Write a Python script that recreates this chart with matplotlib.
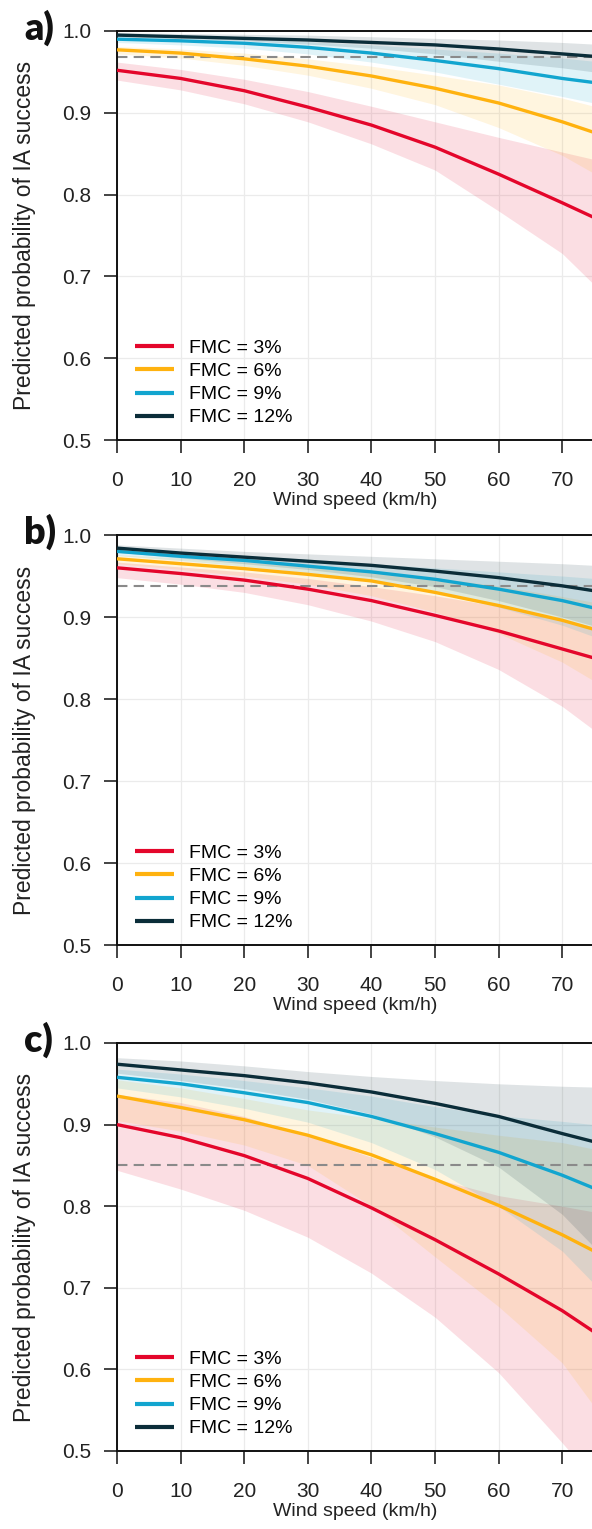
import matplotlib
matplotlib.use("Agg")
import matplotlib.pyplot as plt

plt.rcParams['font.family'] = ['Liberation Sans', 'DejaVu Sans']

wind = [0, 10, 20, 30, 40, 50, 60, 70, 75]
labels = ["FMC = 3%", "FMC = 6%", "FMC = 9%", "FMC = 12%"]
colors = ["#E4062B", "#FFB20F", "#12A5CF", "#0B2D39"]
panel_names = ["a)", "b)", "c)"]
thresholds = [0.968, 0.938, 0.851]

# Panel a
a_fit = [
    [0.952, 0.942, 0.927, 0.907, 0.885, 0.858, 0.825, 0.790, 0.772],
    [0.977, 0.973, 0.966, 0.957, 0.945, 0.930, 0.912, 0.889, 0.876],
    [0.990, 0.988, 0.985, 0.980, 0.973, 0.964, 0.954, 0.942, 0.937],
    [0.995, 0.993, 0.991, 0.989, 0.986, 0.983, 0.978, 0.972, 0.969],
]
a_lo = [
    [0.940, 0.928, 0.911, 0.889, 0.862, 0.830, 0.780, 0.728, 0.690],
    [0.972, 0.967, 0.958, 0.946, 0.930, 0.910, 0.882, 0.848, 0.826],
    [0.986, 0.983, 0.979, 0.972, 0.962, 0.950, 0.935, 0.920, 0.912],
    [0.993, 0.991, 0.988, 0.984, 0.979, 0.972, 0.963, 0.955, 0.950],
]
a_hi = [
    [0.962, 0.953, 0.941, 0.926, 0.908, 0.889, 0.870, 0.852, 0.843],
    [0.981, 0.978, 0.973, 0.966, 0.957, 0.946, 0.934, 0.918, 0.908],
    [0.993, 0.992, 0.990, 0.987, 0.983, 0.978, 0.973, 0.967, 0.963],
    [0.998, 0.997, 0.996, 0.995, 0.993, 0.991, 0.989, 0.986, 0.984],
]

# Panel b
b_fit = [
    [0.960, 0.953, 0.945, 0.934, 0.920, 0.902, 0.883, 0.861, 0.850],
    [0.971, 0.965, 0.959, 0.952, 0.944, 0.930, 0.914, 0.896, 0.885],
    [0.980, 0.974, 0.969, 0.962, 0.955, 0.946, 0.934, 0.920, 0.911],
    [0.984, 0.978, 0.973, 0.968, 0.963, 0.956, 0.948, 0.938, 0.932],
]
b_lo = [
    [0.948, 0.940, 0.930, 0.915, 0.895, 0.870, 0.836, 0.791, 0.762],
    [0.965, 0.958, 0.950, 0.940, 0.926, 0.906, 0.880, 0.845, 0.822],
    [0.975, 0.969, 0.962, 0.954, 0.944, 0.930, 0.912, 0.890, 0.876],
    [0.979, 0.972, 0.965, 0.958, 0.949, 0.937, 0.920, 0.900, 0.889],
]
b_hi = [
    [0.967, 0.961, 0.955, 0.947, 0.937, 0.926, 0.913, 0.897, 0.888],
    [0.976, 0.972, 0.967, 0.962, 0.955, 0.948, 0.938, 0.925, 0.918],
    [0.984, 0.979, 0.975, 0.970, 0.965, 0.960, 0.955, 0.950, 0.947],
    [0.988, 0.984, 0.980, 0.977, 0.974, 0.971, 0.968, 0.965, 0.963],
]

# Panel c
c_fit = [
    [0.900, 0.884, 0.862, 0.834, 0.798, 0.759, 0.717, 0.672, 0.646],
    [0.935, 0.921, 0.906, 0.887, 0.863, 0.833, 0.801, 0.765, 0.745],
    [0.958, 0.950, 0.939, 0.927, 0.910, 0.889, 0.866, 0.838, 0.822],
    [0.974, 0.967, 0.960, 0.951, 0.940, 0.926, 0.910, 0.889, 0.879],
]
c_lo = [
    [0.844, 0.821, 0.795, 0.762, 0.718, 0.664, 0.596, 0.510, 0.465],
    [0.905, 0.892, 0.875, 0.850, 0.800, 0.738, 0.677, 0.608, 0.555],
    [0.945, 0.934, 0.920, 0.903, 0.878, 0.845, 0.800, 0.745, 0.705],
    [0.963, 0.954, 0.944, 0.931, 0.913, 0.885, 0.848, 0.790, 0.750],
]
c_hi = [
    [0.937, 0.927, 0.910, 0.887, 0.860, 0.834, 0.813, 0.800, 0.793],
    [0.955, 0.945, 0.932, 0.918, 0.908, 0.897, 0.887, 0.878, 0.870],
    [0.968, 0.962, 0.954, 0.945, 0.935, 0.922, 0.911, 0.904, 0.900],
    [0.982, 0.978, 0.972, 0.965, 0.959, 0.954, 0.950, 0.947, 0.946],
]

panels = [(a_fit, a_lo, a_hi), (b_fit, b_lo, b_hi), (c_fit, c_lo, c_hi)]

W, H = 592, 1529
fig = plt.figure(figsize=(W / 100, H / 100), dpi=100)

ax_left_px = 117
ax_right_px = 594
tops = [31, 535, 1043]
bottoms = [440, 945, 1451]

for i, (fit, lo, hi) in enumerate(panels):
    rect = [ax_left_px / W, 1 - bottoms[i] / H,
            (ax_right_px - ax_left_px) / W, (bottoms[i] - tops[i]) / H]
    ax = fig.add_axes(rect)
    for k in range(4):
        ax.fill_between(wind, lo[k], hi[k], color=colors[k], alpha=0.13,
                        linewidth=0, zorder=1)
    ax.axhline(thresholds[i], color="#8a8a8a", lw=1.5, ls=(0, (5, 3)), zorder=2)
    for k in range(4):
        ax.plot(wind, fit[k], color=colors[k], lw=2.4, label=labels[k],
                zorder=3 + k, solid_capstyle="butt")
    ax.set_xlim(0, 75)
    ax.set_ylim(0.5, 1.0)
    ax.set_xticks([0, 10, 20, 30, 40, 50, 60, 70])
    ax.set_yticks([0.5, 0.6, 0.7, 0.8, 0.9, 1.0])
    ax.set_yticklabels(["0.5", "0.6", "0.7", "0.8", "0.9", "1.0"])
    ax.grid(True, color="#ebebeb", lw=0.9, zorder=0)
    ax.set_axisbelow(True)
    for s in ["left", "bottom", "top"]:
        ax.spines[s].set_linewidth(1.4)
        ax.spines[s].set_color("#111111")
    ax.spines["right"].set_visible(False)
    ax.tick_params(axis="both", direction="out", length=9.5, width=1.1,
                   labelsize=15, labelcolor="#222222", color="#111111")
    ax.tick_params(axis="x", pad=13)
    ax.tick_params(axis="y", pad=9)
    ax.set_xlabel("Wind speed (km/h)", fontsize=14, color="#222222", labelpad=1)
    ax.set_ylabel("Predicted probability of IA success", fontsize=16.5,
                  color="#222222", labelpad=19)
    leg = ax.legend(loc="lower left", frameon=False, fontsize=14,
                    handlelength=2.0, handletextpad=0.8, labelspacing=0.28,
                    borderaxespad=0.3, bbox_to_anchor=(0.009, 0.0))
    for line in leg.get_lines():
        line.set_linewidth(3.0)
    fig.text(24 / W, 1 - (tops[i] + 9) / H, panel_names[i], fontsize=27,
             fontweight="heavy", family=["Lato", "DejaVu Sans"],
             ha="left", va="baseline", color="#111111")

fig.savefig("out.png", dpi=100)
